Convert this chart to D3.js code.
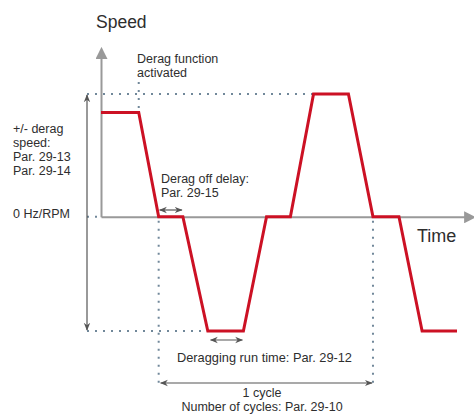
<!DOCTYPE html>
<html>
<head>
<meta charset="utf-8">
<script src="https://cdn.jsdelivr.net/npm/d3@7"></script>
<style>
  body { margin: 0; background: #fff; }
  text { font-family: "Liberation Sans", Arial, sans-serif; fill: #2e2e2e; }
</style>
</head>
<body>
<svg id="chart" width="474" height="415"></svg>
<script>
// time points (arbitrary units) and speed at each point
var times  = [0, 10.6, 16.2, 23, 30, 40, 46.5, 53.2, 59.7, 69.5, 76.4, 83.7, 90.2, 100];
var speeds = [85, 85, 0, 0, -93, -93, 0, 0, 100, 100, 0, 0, -93, -93];

// key moments used for the annotations
var activatedAt = 10.6;     // derag function activated
var offDelay = [16.2, 23];  // derag off delay
var runTime = [30.5, 40];   // deragging run time
var cycle = [16.2, 76.4];   // one cycle
var topSpeed = 100, bottomSpeed = -93;

var leftLabels = ["+/- derag", "speed:", "Par. 29-13", "Par. 29-14"];
var activatedLabels = ["Derag function", "activated"];
var delayLabels = ["Derag off delay:", "Par. 29-15"];
var cycleLabels = ["1 cycle", "Number of cycles: Par. 29-10"];

var svg = d3.select("#chart");

var x = d3.scaleLinear().domain([0, 100]).range([101, 457]),
    y = d3.scaleLinear().domain([bottomSpeed, topSpeed]).range([331, 94]);

var dotColor = "#71889a", arrowColor = "#555", axisColor = "#999";

// arrow heads
var defs = svg.append("defs");
defs.append("marker")
    .attr("id", "head")
    .attr("viewBox", "0 0 10 10")
    .attr("refX", 9).attr("refY", 5)
    .attr("markerWidth", 8).attr("markerHeight", 8)
    .attr("markerUnits", "userSpaceOnUse")
    .attr("orient", "auto-start-reverse")
  .append("path")
    .attr("d", "M0,1 L10,5 L0,9 L3,5 Z")
    .attr("fill", arrowColor);
defs.append("marker")
    .attr("id", "axishead")
    .attr("viewBox", "0 0 10 10")
    .attr("refX", 2).attr("refY", 5)
    .attr("markerWidth", 6).attr("markerHeight", 6)
    .attr("orient", "auto")
  .append("path")
    .attr("d", "M0,0 L10,5 L0,10 Z")
    .attr("fill", axisColor);

// dotted guide lines
function dotted(x1, y1, x2, y2) {
  svg.append("line")
    .attr("x1", x1).attr("y1", y1).attr("x2", x2).attr("y2", y2)
    .attr("stroke", dotColor)
    .attr("stroke-width", 2)
    .attr("stroke-dasharray", "2 6");
}
dotted(87, y(topSpeed), x(times[8]), y(topSpeed));
dotted(87, y(bottomSpeed), x(times[4]), y(bottomSpeed));
dotted(87, y(0), x(0), y(0));
dotted(x(activatedAt), 82, x(activatedAt), y(speeds[0]));
dotted(x(cycle[0]), y(0) + 4, x(cycle[0]), 387);
dotted(x(cycle[1]), y(0) + 4, x(cycle[1]), 387);

// axes (domain lines only)
var xAxisScale = d3.scaleLinear().domain([0, 103]).range([x(0), 466]);
var yAxisScale = d3.scaleLinear().domain([0, 1]).range([y(0), 56]);

var gx = svg.append("g")
    .attr("transform", "translate(0," + y(0) + ")")
    .call(d3.axisBottom(xAxisScale).tickValues([]).tickSizeOuter(0));
var gy = svg.append("g")
    .attr("transform", "translate(" + x(0) + ",0)")
    .call(d3.axisLeft(yAxisScale).tickValues([]).tickSizeOuter(0));
[gx, gy].forEach(function(g) {
  g.select(".domain")
    .attr("stroke", axisColor)
    .attr("stroke-width", 2)
    .attr("marker-end", "url(#axishead)");
});

// speed curve
var line = d3.line()
    .x(function(d) { return x(d[0]); })
    .y(function(d) { return y(d[1]); });
svg.append("path")
    .attr("d", line(d3.zip(times, speeds)))
    .attr("fill", "none")
    .attr("stroke", "#cc1124")
    .attr("stroke-width", 3)
    .attr("stroke-linejoin", "miter");

// double arrows
function arrow(x1, y1, x2, y2) {
  svg.append("line")
    .attr("x1", x1).attr("y1", y1).attr("x2", x2).attr("y2", y2)
    .attr("stroke", arrowColor)
    .attr("stroke-width", 1.2)
    .attr("marker-start", "url(#head)")
    .attr("marker-end", "url(#head)");
}
arrow(87, y(topSpeed) + 1, 87, y(bottomSpeed) - 1);
arrow(x(offDelay[0]) + 1, 210, x(offDelay[1]) - 1, 210);
arrow(x(runTime[0]) + 1, 340, x(runTime[1]) - 1, 340);
arrow(x(cycle[0]) + 2, 383, x(cycle[1]) - 1, 383);

// texts, several lines go in one text element
function label(lines, px, py, size, anchor) {
  if (typeof lines === "string") lines = [lines];
  var t = svg.append("text")
    .attr("x", px).attr("y", py)
    .attr("font-size", size || 12.5)
    .attr("text-anchor", anchor || "start");
  t.selectAll("tspan")
    .data(lines)
    .join("tspan")
      .attr("x", px)
      .attr("y", function(d, i) { return py + i * 14.1; })
      .text(function(d) { return d; });
}
label("Speed", 96, 28, 17.5);
label("Time", 417, 242, 18);
label(activatedLabels, 137, 63);
label(leftLabels, 13, 133);
label("0 Hz/RPM", 13, 218);
label(delayLabels, 161, 183);
label("Deragging run time: Par. 29-12", 177, 362, 12.8);
label(cycleLabels, 262, 396.5, 12.5, "middle");
</script>
</body>
</html>
